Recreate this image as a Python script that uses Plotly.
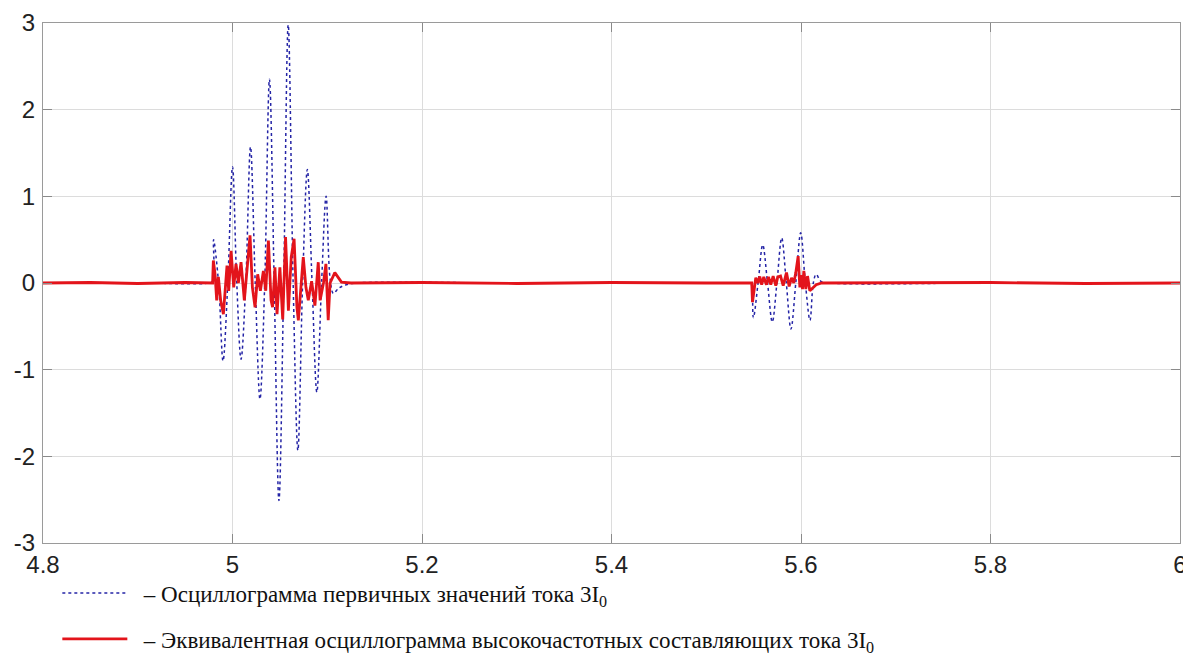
import plotly.graph_objects as go

# ---- data ----
# Primary current 3I0 (blue, dotted): extrema and zero crossings
blue_t = [4.80, 4.90, 4.975, 4.9790, 4.9800, 4.9853, 4.9900, 4.9950, 5.0000, 5.0045, 5.0090,
          5.0140, 5.0190, 5.0240, 5.0290, 5.0340, 5.0390, 5.0440, 5.0490, 5.0540,
          5.0588, 5.0640, 5.0690, 5.0740, 5.0790, 5.0840, 5.0890, 5.0940, 5.0988,
          5.1030, 5.1065, 5.1120, 5.1200, 5.1300, 5.30, 5.50, 5.5440, 5.5470,
          5.5497, 5.5547, 5.5596, 5.5647, 5.5697, 5.5746, 5.5796, 5.5845, 5.5894,
          5.5945, 5.5997, 5.6046, 5.6095, 5.6130, 5.6160, 5.6210, 5.6300, 5.80, 6.00]
blue_v = [0.0, 0.0, 0.0, 0.02, 0.50, 0.0, -0.90, 0.0, 1.34, 0.0, -0.88,
          0.0, 1.57, 0.0, -1.34, 0.0, 2.35, 0.0, -2.51, 0.0,
          2.98, 0.0, -1.93, 0.0, 1.31, 0.0, -1.26, 0.0, 1.00,
          0.05, -0.12, -0.06, -0.02, 0.0, 0.0, 0.0, 0.0, 0.0,
          -0.40, 0.0, 0.44, 0.0, -0.45, 0.0, 0.52, 0.0, -0.53,
          0.0, 0.58, 0.0, -0.43, 0.0, 0.10, 0.02, 0.0, 0.0, 0.0]

# Equivalent high-frequency components of 3I0 (red, solid)
red_t = [4.80, 4.85, 4.90, 4.95, 4.9790, 4.9798, 4.9816, 4.9833, 4.9851, 4.9875, 4.9904,
         4.9928, 4.9942, 4.9960, 4.9985, 5.0013, 5.0037, 5.0062, 5.0090, 5.0125,
         5.0150, 5.0185, 5.0210, 5.0238, 5.0266, 5.0294, 5.0326, 5.0351, 5.0379,
         5.0407, 5.0423, 5.0448, 5.0470, 5.0500, 5.0530, 5.0560, 5.0590, 5.0620,
         5.0650, 5.0680, 5.0695, 5.0730, 5.0747, 5.0775, 5.0800, 5.0835, 5.0870,
         5.0905, 5.0925, 5.0960, 5.0986, 5.1010, 5.1030, 5.1080, 5.1150, 5.1250,
         5.20, 5.30, 5.40, 5.50, 5.5480,
         5.5488, 5.5505, 5.5523, 5.5545, 5.5565, 5.5585, 5.5607, 5.5635, 5.5657,
         5.5681, 5.5706, 5.5734, 5.5755, 5.5784, 5.5812, 5.5847, 5.5875, 5.5900,
         5.5924, 5.5945, 5.5970, 5.5988, 5.6002, 5.6016, 5.6030, 5.6051, 5.6069,
         5.6093, 5.6121, 5.6160, 5.6220, 5.70, 5.80, 5.90, 6.00]
red_v = [0.0, 0.006, -0.006, 0.006, 0.0, 0.26, 0.10, -0.20, 0.07, -0.20, -0.36,
         -0.01, 0.20, -0.09, 0.37, -0.05, 0.22, 0.00, 0.24, -0.20,
         0.10, 0.55, -0.05, -0.28, 0.10, -0.09, 0.14, -0.09, 0.49,
         -0.20, -0.28, 0.18, -0.36, 0.18, -0.42, 0.53, -0.32, 0.30,
         0.51, -0.28, -0.43, 0.14, 0.30, -0.05, -0.20, 0.02, -0.26,
         0.24, -0.20, 0.00, 0.22, -0.43, 0.00, 0.12, 0.01, 0.0,
         0.006, -0.006, 0.006, 0.0, 0.0,
         -0.22, -0.07, 0.06, 0.0, 0.075, -0.02, 0.07, -0.02, 0.07,
         -0.02, 0.08, -0.03, 0.07, 0.08, -0.03, 0.12, -0.04, 0.06,
         0.0, 0.12, 0.31, -0.05, 0.09, -0.07, 0.14, -0.07, 0.08,
         -0.09, -0.06, -0.02, 0.0, 0.0, 0.006, -0.006, 0.0]

x_ticks = [4.8, 5.0, 5.2, 5.4, 5.6, 5.8, 6.0]
x_tick_text = ["4.8", "5", "5.2", "5.4", "5.6", "5.8", "6"]
y_ticks = [-3, -2, -1, 0, 1, 2, 3]
y_tick_text = ["-3", "-2", "-1", "0", "1", "2", "3"]

names = ["\u2002– Осциллограмма первичных значений тока 3I<sub>0</sub>",
         "\u2002– Эквивалентная осциллограмма высокочастотных составляющих тока 3I<sub>0</sub>"]

fig = go.Figure()
fig.add_trace(go.Scatter(x=blue_t, y=blue_v, mode="lines", name=names[0],
                         legendgroup="a",
                         line=dict(color="#2424a6", width=1.5, dash="dot",
                                   shape="spline", smoothing=1.0)))
fig.add_trace(go.Scatter(x=red_t, y=red_v, mode="lines", name=names[1],
                         legendgroup="b",
                         line=dict(color="#e3141b", width=2.8)))

axis_common = dict(showline=True, linecolor="#9a9a9a", linewidth=1.2, mirror="ticks",
                   ticks="inside", ticklen=9, tickcolor="#8a8a8a", automargin=False,
                   showgrid=True, gridcolor="#dcdcdc", gridwidth=1, zeroline=False,
                   tickfont=dict(family="Liberation Sans, Arial", size=24, color="#222"))

fig.update_xaxes(range=[4.8, 6.0], tickvals=x_ticks, ticktext=x_tick_text,
                 ticklabelstandoff=0, **axis_common)
fig.update_yaxes(range=[-3, 3], tickvals=y_ticks, ticktext=y_tick_text,
                 ticklabelstandoff=2, **axis_common)

fig.update_layout(
    width=1183, height=649,
    margin=dict(l=35, r=11, t=15, b=114, autoexpand=False),
    paper_bgcolor="white", plot_bgcolor="white",
    showlegend=True,
    legend=dict(x=0.0126, y=-0.055, xanchor="left", yanchor="top",
                orientation="v", tracegroupgap=13, itemwidth=65,
                font=dict(family="Liberation Serif, Times New Roman", size=23, color="#111"),
                bgcolor="rgba(0,0,0,0)"),
)

fig.write_html("out.html")
